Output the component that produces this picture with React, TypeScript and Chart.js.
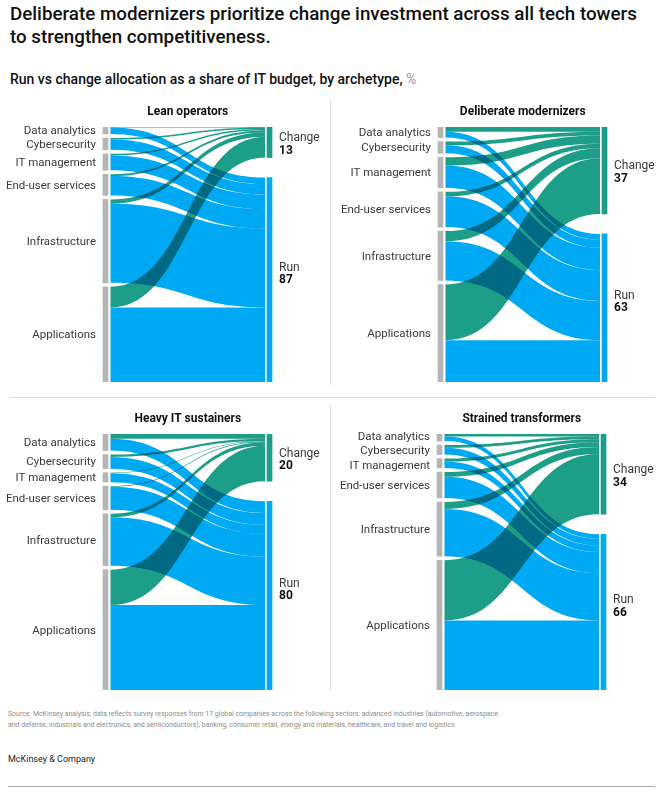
import { useEffect, useRef } from 'react';
import { Chart, registerables } from 'chart.js';

Chart.register(...registerables);

// ---------- data ----------
const towers = ['Data analytics', 'Cybersecurity', 'IT management', 'End-user services', 'Infrastructure', 'Applications'];
const archetypes = ['Lean operators', 'Deliberate modernizers', 'Heavy IT sustainers', 'Strained transformers'];
const targetNames = ['Change', 'Run'];

// share of IT budget per tech tower, %
const leanTotal = [3, 5, 7, 9, 35.5, 40.5];
const leanChange = [0.2, 0.6, 0.7, 0.8, 1.9, 8.8];
const modernizersTotal = [4.5, 5, 13, 15, 21, 41.5];
const modernizersChange = [2.0, 1.6, 3.5, 1.9, 4.3, 23.7];
const sustainersTotal = [7, 6, 4, 10, 22, 51];
const sustainersChange = [2, 1, 0.2, 0.3, 1.5, 15];
const transformersTotal = [3, 4, 4, 11, 23, 55];
const transformersChange = [1.1, 1.1, 1.3, 2, 3, 25.5];

const changeShare = [13, 37, 20, 34];
const runShare = [87, 63, 80, 66];

// ---------- style ----------
const FONT = 'Roboto, "Liberation Sans", Arial, sans-serif';
const BLUE = '#00A9F4';
const GREEN = '#1D9E89';
const NODE_GRAY = '#B5B5B5';
const LEFT_GAP = 1.7; // node padding in value units
const W = 330;
const H = 300;
const LEFT_X = 105.5;
const RIGHT_X = 269.5;

function spread(centers: number[], minGap: number) {
  const ys = centers.slice();
  for (let iter = 0; iter < 60; iter++) {
    for (let i = 1; i < ys.length; i++) {
      const d = ys[i] - ys[i - 1];
      if (d < minGap) {
        const p = (minGap - d) / 2;
        ys[i - 1] -= p;
        ys[i] += p;
      }
    }
  }
  return ys;
}

type PanelProps = {
  title: string;
  totals: number[];
  change: number[];
  changeValue: number;
  runValue: number;
  left: number;
  top: number;
  padTop: number;
  padBottom: number;
};

function SankeyPanel(props: PanelProps) {
  const ref = useRef<HTMLCanvasElement>(null);
  useEffect(() => {
    const { title, totals, change, changeValue, runValue, padTop, padBottom } = props;
    const run = totals.map((t, i) => t - change[i]);
    const changeSum = change.reduce((a, b) => a + b, 0);
    const runSum = run.reduce((a, b) => a + b, 0);

    let cursor = 0;
    const leftNodes = totals.map((t) => {
      const n = { y0: cursor, y1: cursor + t };
      cursor += t + LEFT_GAP;
      return n;
    });
    const total = cursor - LEFT_GAP;
    const rightGap = total - changeSum - runSum;
    const changeNode = { y0: 0, y1: changeSum };
    const runNode = { y0: changeSum + rightGap, y1: total };

    const links: { color: string; s0: number; s1: number; t0: number; t1: number }[] = [];
    let cOff = changeNode.y0;
    let rOff = runNode.y0;
    towers.forEach((_, i) => {
      const n = leftNodes[i];
      links.push({ color: GREEN, s0: n.y0, s1: n.y0 + change[i], t0: cOff, t1: cOff + change[i] });
      cOff += change[i];
      links.push({ color: BLUE, s0: n.y0 + change[i], s1: n.y1, t0: rOff, t1: rOff + run[i] });
      rOff += run[i];
    });

    const span = RIGHT_X - LEFT_X;
    const xMin = -LEFT_X / span;
    const xMax = (W - LEFT_X) / span;

    const sankeyPlugin = {
      id: 'sankeyLinks',
      beforeDatasetsDraw(chart: any) {
        const ctx = chart.ctx;
        const xs = chart.scales.x;
        const ys = chart.scales.y;
        const x0 = xs.getPixelForValue(0) + 5;
        const x1 = xs.getPixelForValue(1) - 4.5;
        const xm = (x0 + x1) / 2;
        ctx.save();
        ctx.globalCompositeOperation = 'multiply';
        links.forEach((l) => {
          if (l.s1 - l.s0 <= 0) return;
          const a0 = ys.getPixelForValue(l.s0);
          const a1 = ys.getPixelForValue(l.s1);
          const b0 = ys.getPixelForValue(l.t0);
          const b1 = ys.getPixelForValue(l.t1);
          ctx.beginPath();
          ctx.moveTo(x0, a0);
          ctx.bezierCurveTo(xm, a0, xm, b0, x1, b0);
          ctx.lineTo(x1, b1);
          ctx.bezierCurveTo(xm, b1, xm, a1, x0, a1);
          ctx.closePath();
          ctx.fillStyle = l.color;
          ctx.fill();
        });
        ctx.restore();
      },
      afterDraw(chart: any) {
        const ctx = chart.ctx;
        const xs = chart.scales.x;
        const ys = chart.scales.y;
        const px0 = xs.getPixelForValue(0);
        const px1 = xs.getPixelForValue(1);
        ctx.save();
        // panel title
        ctx.fillStyle = '#111';
        ctx.font = `700 12px ${FONT}`;
        ctx.textAlign = 'center';
        ctx.textBaseline = 'middle';
        ctx.fillText(title, (px0 + 5 + px1 - 4.5) / 2, chart.chartArea.top - 15.5);
        // left labels
        const centers = leftNodes.map((n) => ys.getPixelForValue((n.y0 + n.y1) / 2) + 1);
        const ly = spread(centers, 14.5);
        ctx.font = `400 11.5px ${FONT}`;
        ctx.fillStyle = '#3a3a3a';
        ctx.textAlign = 'right';
        towers.forEach((t, i) => ctx.fillText(t, px0 - 9.5, ly[i]));
        // right labels
        ctx.textAlign = 'left';
        const lx = px1 + 9.5;
        const cc = ys.getPixelForValue((changeNode.y0 + changeNode.y1) / 2);
        const rc = ys.getPixelForValue((runNode.y0 + runNode.y1) / 2);
        ctx.font = `400 12px ${FONT}`;
        ctx.fillStyle = '#3a3a3a';
        ctx.fillText(targetNames[0], lx, cc - 4);
        ctx.fillText(targetNames[1], lx, rc - 12);
        ctx.font = `700 12px ${FONT}`;
        ctx.fillStyle = '#111';
        ctx.fillText(String(changeValue), lx, cc + 8.5);
        ctx.fillText(String(runValue), lx, rc + 0.5);
        ctx.restore();
      },
    };

    const nodeData = [
      ...leftNodes.map((n) => ({ x: 0, y: [n.y0, n.y1] })),
      { x: 1, y: [changeNode.y0, changeNode.y1] },
      { x: 1, y: [runNode.y0, runNode.y1] },
    ];

    const chart = new Chart(ref.current as HTMLCanvasElement, {
      type: 'bar',
      data: {
        datasets: [
          {
            data: nodeData as any,
            backgroundColor: [...leftNodes.map(() => NODE_GRAY), GREEN, BLUE],
            borderWidth: 0,
            barThickness: 5,
            grouped: false,
            borderSkipped: false,
          } as any,
        ],
      },
      options: {
        animation: false,
        responsive: false,
        events: [],
        layout: { padding: { top: padTop, bottom: padBottom, left: 0, right: 0 } },
        plugins: { legend: { display: false }, tooltip: { enabled: false } },
        scales: {
          x: { type: 'linear', display: false, min: xMin, max: xMax, bounds: 'data', offset: false, grid: { display: false } },
          y: { type: 'linear', display: false, min: 0, max: total, reverse: true, bounds: 'data', grid: { display: false } },
        },
      } as any,
      plugins: [sankeyPlugin],
    });
    return () => chart.destroy();
  }, []);
  return (
    <canvas
      ref={ref}
      width={W}
      height={H}
      style={{ position: 'absolute', left: props.left, top: props.top, width: W, height: H }}
    />
  );
}

export default function App() {
  return (
    <div
      style={{
        position: 'absolute',
        left: 0,
        top: 0,
        width: 671,
        height: 802,
        background: '#fff',
        fontFamily: FONT,
        overflow: 'hidden',
      }}
    >
      <div
        style={{
          position: 'absolute',
          left: 10,
          top: 3,
          fontSize: 18.8,
          fontWeight: 500,
          lineHeight: '23px',
          color: '#111',
          whiteSpace: 'nowrap',
        }}
      >
        Deliberate modernizers prioritize change investment across all tech towers
        <br />
        to strengthen competitiveness.
      </div>
      <div
        style={{
          position: 'absolute',
          left: 10,
          top: 70,
          fontSize: 14,
          fontWeight: 500,
          lineHeight: '18px',
          color: '#111',
          whiteSpace: 'nowrap',
        }}
      >
        Run vs change allocation as a share of IT budget, by archetype,{' '}
        <span style={{ color: '#999', fontWeight: 400 }}>%</span>
      </div>

      <SankeyPanel title={archetypes[0]} totals={leanTotal} change={leanChange} changeValue={changeShare[0]} runValue={runShare[0]} left={0} top={95} padTop={32} padBottom={13} />
      <SankeyPanel title={archetypes[1]} totals={modernizersTotal} change={modernizersChange} changeValue={changeShare[1]} runValue={runShare[1]} left={335} top={95} padTop={32} padBottom={13} />
      <SankeyPanel title={archetypes[2]} totals={sustainersTotal} change={sustainersChange} changeValue={changeShare[2]} runValue={runShare[2]} left={0} top={400} padTop={34} padBottom={10} />
      <SankeyPanel title={archetypes[3]} totals={transformersTotal} change={transformersChange} changeValue={changeShare[3]} runValue={runShare[3]} left={334} top={400} padTop={34} padBottom={10} />

      <div style={{ position: 'absolute', left: 330, top: 100, width: 1, height: 285, background: '#dcdcdc' }} />
      <div style={{ position: 'absolute', left: 330, top: 405, width: 1, height: 285, background: '#dcdcdc' }} />
      <div style={{ position: 'absolute', left: 10, top: 397, width: 645, height: 1, background: '#dcdcdc' }} />

      <div
        style={{
          position: 'absolute',
          left: 8,
          top: 709,
          fontSize: 6.95,
          lineHeight: '10.5px',
          color: '#8c8c8c',
          whiteSpace: 'nowrap',
        }}
      >
        Source: McKinsey analysis; data reflects survey responses from 17 global companies across the following sectors: advanced industries (automotive, aerospace
        <br />
        and defense, industrials and electronics, and semiconductors), banking, consumer retail, energy and materials, healthcare, and travel and logistics
      </div>
      <div style={{ position: 'absolute', left: 8, top: 753, fontSize: 9, lineHeight: '12px', color: '#222', whiteSpace: 'nowrap' }}>
        McKinsey &amp; Company
      </div>
      <div style={{ position: 'absolute', left: 8, top: 786, width: 647, height: 1, background: '#aaa' }} />
    </div>
  );
}
